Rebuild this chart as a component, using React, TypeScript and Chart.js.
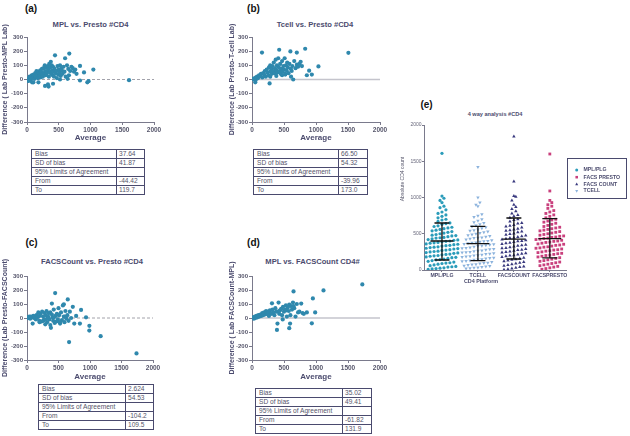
import React, { useEffect, useRef } from 'react';
import { Chart, registerables } from 'chart.js';

Chart.register(...registerables);

const FONT = "'Liberation Sans', Arial, Helvetica, sans-serif";
const SLATE = '#4b4b6e';
const AXIS = '#7a7a8c';
const TICK = '#55556a';
const BA_POINT = '#2f88ad';

// ---------- Bland-Altman data ----------
const aAvg = [15, 25, 40, 55, 60, 75, 80, 95, 100, 110, 120, 130, 140, 150, 160, 170, 180, 190, 200, 210, 215, 225, 235, 245, 250, 260, 270, 280, 285, 295, 300, 310, 320, 330, 335, 345, 350, 360, 365, 375, 380, 390, 395, 405, 410, 420, 425, 435, 441, 450, 460, 470, 480, 490, 500, 510, 520, 530, 540, 550, 560, 575, 590, 600, 610, 630, 640, 650, 660, 666, 680, 700, 720, 740, 760, 780, 835, 835, 898, 950, 970, 1045, 1607, 284, 330, 340, 180, 100, 410, 520];
const aDiff = [5, -10, 20, -5, 15, 30, -20, 10, 35, 25, 5, 45, 20, 60, 30, 10, 55, 40, 25, 65, 15, 50, 75, 35, 20, 80, 45, 100, 60, 30, 85, 40, 55, 95, 70, 20, 110, 50, 85, 125, 40, 100, 65, 30, 90, 55, 20, 75, 171, 45, 60, 10, 95, 35, 70, 50, 100, 25, 80, 65, 40, 90, 55, 150, 20, 100, 5, 75, 30, 183, 60, 90, 80, 55, 70, 40, 96, -7, 50, -20, -12, 70, -5, -45, -35, -50, -20, -20, -30, 0];

const bAvg = [20, 30, 45, 55, 65, 80, 95, 110, 125, 140, 156, 160, 175, 190, 200, 215, 230, 245, 255, 265, 275, 285, 290, 300, 310, 320, 330, 340, 350, 360, 370, 380, 390, 400, 410, 420, 425, 430, 440, 450, 460, 470, 480, 490, 500, 510, 520, 530, 540, 550, 560, 570, 585, 600, 608, 620, 630, 644, 660, 680, 700, 701, 720, 740, 760, 780, 831, 857, 893, 935, 1038, 1506, 51, 285, 380, 470, 520, 610];
const bDiff = [5, 0, 10, -5, 15, 20, 10, 30, 25, 40, 190, 15, 45, 35, 60, 20, 70, 50, 30, 85, -28, 100, 55, 75, 40, 95, 60, 120, 45, 80, 140, 65, 100, 50, 150, 85, 210, 60, 110, 40, 75, 130, 55, 95, 70, 150, 40, 100, 65, 120, 85, 45, 110, 198, 75, 60, 95, 0, 130, 80, 190, 105, 90, 110, 125, 95, 217, 30, 62, 35, 92, 188, -20, 20, 25, 30, 35, 20];

const cAvg = [10, 20, 35, 50, 60, 75, 90, 100, 110, 125, 140, 150, 165, 180, 195, 200, 215, 230, 240, 255, 265, 280, 290, 300, 310, 320, 335, 345, 355, 370, 380, 395, 405, 415, 425, 440, 447, 455, 465, 475, 490, 500, 510, 525, 540, 555, 570, 585, 595, 610, 625, 640, 647, 660, 668, 680, 700, 727, 750, 780, 840, 858, 937, 990, 989, 1169, 1738, 395, 585, 200, 370, 260, 430, 520, 600, 330, 290, 470];
const cDiff = [5, 0, 10, -5, 10, 5, -40, 15, 0, 10, -10, 20, 5, 40, -20, 15, 30, -25, 45, 10, -15, 35, -45, 20, 50, -30, 10, 35, -10, 40, -70, 25, 5, -20, 60, -35, 178, 15, -25, 30, -10, 70, 20, -40, 40, -15, 90, 10, -30, 50, -5, 20, 133, -20, -172, 45, 0, 80, -40, 15, -40, 58, 5, -56, -90, -130, -253, 103, 98, -30, -50, -20, 5, -30, 10, 0, -10, 25];

const dAvg = [10, 20, 30, 45, 55, 70, 85, 100, 115, 130, 145, 160, 175, 190, 205, 220, 235, 250, 265, 280, 295, 312, 320, 335, 350, 365, 380, 390, 398, 415, 425, 440, 455, 470, 485, 500, 515, 530, 545, 560, 575, 582, 582, 595, 610, 625, 640, 649, 660, 680, 700, 720, 740, 769, 790, 810, 857, 935, 951, 987, 1117, 1724, 300, 420, 480, 540, 600, 650];
const dDiff = [0, 5, -5, 10, 0, 15, 5, 20, 10, 25, 15, 35, 20, 40, 25, 50, 30, 45, 15, 55, 35, 105, 60, 40, 20, 70, 45, -85, -40, 110, 30, 55, 65, 20, 80, 45, 60, 90, 10, 75, 50, 95, -73, -40, 85, 60, 110, 190, 70, 10, 100, 40, 45, 103, 35, 30, 40, -38, 140, 40, 197, 240, 30, 50, -10, 55, 20, 85];

// ---------- Stats tables ----------
const tableLabels = ['Bias', 'SD of bias', '95% Limits of Agreement', 'From', 'To'];
const aStats = ['37.64', '41.87', '', '-44.42', '119.7'];
const bStats = ['66.50', '54.32', '', '-39.96', '173.0'];
const cStats = ['2.624', '54.53', '', '-104.2', '109.5'];
const dStats = ['35.02', '49.41', '', '-61.82', '131.9'];

// ---------- 4-way analysis ----------
const eCategories = ['MPL/PLG', 'TCELL', 'FACSCOUNT', 'FACSPRESTO'];
const eLegendNames = ['MPL/PLG', 'TCELL', 'FACS COUNT', 'FACS PRESTO'];
const eLegendOrder = [0, 3, 2, 1];
const eColors = ['#2a9cba', '#8cb3dd', '#38387e', '#c9407d'];
const eYTicks = [0, 500, 1000, 1500, 2000];

const mplVals = [1610, 1020, 990, 960, 930, 880, 860, 830, 800, 780, 760, 740, 720, 700, 690, 670, 650, 640, 630, 610, 600, 590, 580, 570, 560, 550, 540, 530, 520, 510, 500, 490, 480, 475, 470, 460, 450, 445, 440, 430, 420, 415, 410, 400, 395, 390, 380, 375, 370, 360, 355, 350, 340, 335, 330, 320, 315, 310, 300, 295, 290, 280, 275, 270, 260, 255, 250, 240, 235, 230, 220, 215, 210, 200, 195, 190, 180, 175, 170, 160, 150, 145, 140, 130, 120, 110, 100, 95, 90, 80, 70, 60, 50, 45, 40, 30, 25, 20, 15, 10];
const tcellVals = [1420, 1000, 930, 900, 880, 770, 750, 730, 700, 680, 660, 650, 630, 615, 600, 590, 575, 560, 550, 540, 530, 520, 510, 500, 490, 480, 470, 460, 450, 445, 440, 430, 420, 410, 400, 395, 390, 380, 375, 370, 360, 355, 350, 340, 335, 330, 320, 310, 305, 300, 290, 285, 280, 270, 265, 260, 250, 245, 240, 230, 225, 220, 210, 205, 200, 190, 185, 180, 170, 165, 160, 150, 145, 140, 130, 125, 120, 110, 100, 95, 90, 80, 75, 70, 60, 55, 50, 40, 35, 30, 25, 20];
const facsCountVals = [1840, 1220, 1020, 1010, 960, 900, 870, 840, 810, 780, 760, 740, 720, 700, 690, 670, 650, 640, 620, 610, 600, 585, 570, 560, 550, 540, 530, 520, 505, 495, 485, 475, 465, 455, 445, 440, 430, 420, 410, 400, 395, 385, 375, 370, 360, 350, 340, 335, 325, 315, 305, 300, 290, 280, 275, 265, 255, 250, 240, 230, 225, 215, 205, 200, 190, 180, 170, 160, 150, 140, 130, 120, 110, 100, 90, 80, 70, 60, 50, 40, 30, 20, 10, 5];
const facsPrestoVals = [1600, 1090, 960, 930, 900, 880, 850, 820, 800, 780, 760, 740, 720, 700, 690, 675, 660, 645, 630, 615, 600, 590, 580, 570, 560, 550, 540, 530, 520, 510, 500, 490, 480, 470, 465, 455, 450, 440, 435, 425, 420, 410, 400, 395, 385, 380, 370, 360, 355, 345, 340, 330, 320, 315, 305, 300, 290, 280, 275, 265, 260, 250, 240, 230, 225, 215, 205, 200, 190, 180, 170, 160, 150, 140, 130, 120, 110, 100, 90, 80, 70, 60, 50, 40, 30, 20, 10];
const eMeans = [400, 363, 427, 432];
const eLower = [138, 128, 152, 166];
const eUpper = [648, 602, 717, 708];

const eSeries = [mplVals, tcellVals, facsCountVals, facsPrestoVals];
const eShapes = ['circle', 'triangleDown', 'triangle', 'rect'];

function swarm(values: number[], center: number, bin = 60, step = 0.11) {
  const groups = new Map<number, number[]>();
  values.forEach((v) => {
    const k = Math.floor(v / bin);
    if (!groups.has(k)) groups.set(k, []);
    groups.get(k)!.push(v);
  });
  const out: { x: number; y: number }[] = [];
  groups.forEach((list) => {
    list.sort((p, q) => p - q);
    const n = list.length;
    list.forEach((v, j) => {
      out.push({ x: center + (j - (n - 1) / 2) * step, y: v });
    });
  });
  return out;
}

type BAProps = {
  avg: number[];
  diff: number[];
  yTitle: string;
  canvasLeft: number;
  canvasTop: number;
  plotLeft: number;
  plotRight: number;
  plotTop: number;
  plotBottom: number;
  xAxisH: number;
  titleX: number;
  dashed: boolean;
};

function BlandAltman(p: BAProps) {
  const ref = useRef<HTMLCanvasElement>(null);
  const W = p.plotRight - p.canvasLeft + 16;
  const H = p.plotBottom - p.canvasTop + p.xAxisH;
  useEffect(() => {
    const yTitlePlugin = {
      id: 'yTitle',
      afterDraw(chart: any) {
        const ctx = chart.ctx as CanvasRenderingContext2D;
        const area = chart.chartArea;
        ctx.save();
        ctx.fillStyle = SLATE;
        ctx.font = `bold 7px ${FONT}`;
        ctx.textAlign = 'center';
        ctx.textBaseline = 'middle';
        ctx.translate(p.titleX - p.canvasLeft, (area.top + area.bottom) / 2);
        ctx.rotate(-Math.PI / 2);
        ctx.fillText(p.yTitle, 0, 0);
        ctx.restore();
      },
    };
    const chart = new Chart(ref.current!, {
      type: 'scatter',
      data: {
        datasets: [
          {
            data: p.avg.map((a, i) => ({ x: a, y: p.diff[i] })),
            backgroundColor: BA_POINT,
            borderColor: BA_POINT,
            borderWidth: 0,
            pointRadius: 2.1,
          },
          {
            data: [{ x: 0, y: 0 }, { x: 2000, y: 0 }],
            showLine: true,
            pointRadius: 0,
            borderColor: p.dashed ? '#8a8a96' : '#c4c4cc',
            borderWidth: p.dashed ? 0.8 : 1.6,
            borderDash: p.dashed ? [3, 2] : [],
          },
        ],
      } as any,
      options: {
        animation: false,
        responsive: false,
        events: [],
        plugins: { legend: { display: false }, tooltip: { enabled: false } },
        layout: { padding: { left: 0, right: 16, top: p.plotTop - p.canvasTop, bottom: 0 } },
        scales: {
          x: {
            type: 'linear',
            min: 0,
            max: 2000,
            ticks: { stepSize: 500, autoSkip: false, maxRotation: 0, padding: 1.5, color: TICK, font: { family: FONT, size: 6.5, weight: 'bold' }, callback: (v: any) => String(v) },
            grid: { drawOnChartArea: false, tickLength: 3, color: AXIS },
            border: { color: AXIS, width: 1 },
            title: { display: true, text: 'Average', color: SLATE, padding: 0, font: { family: FONT, size: 8, weight: 'bold' } },
            afterFit: (s: any) => { s.height = p.xAxisH; },
          },
          y: {
            type: 'linear',
            min: -300,
            max: 300,
            ticks: { stepSize: 100, padding: 1, color: TICK, font: { family: FONT, size: 6, weight: 'bold' }, callback: (v: any) => String(v) },
            grid: { drawOnChartArea: false, tickLength: 3, color: AXIS },
            border: { color: AXIS, width: 1 },
            title: { display: false },
            afterFit: (s: any) => { s.width = p.plotLeft - p.canvasLeft; },
          },
        },
      } as any,
      plugins: [yTitlePlugin],
    });
    return () => chart.destroy();
  }, []);
  return (
    <canvas
      ref={ref}
      width={W}
      height={H}
      style={{ position: 'absolute', left: p.canvasLeft, top: p.canvasTop, width: W, height: H }}
    />
  );
}

function drawShape(ctx: CanvasRenderingContext2D, shape: string, x: number, y: number, r: number) {
  ctx.beginPath();
  if (shape === 'circle') {
    ctx.arc(x, y, r, 0, Math.PI * 2);
  } else if (shape === 'rect') {
    ctx.rect(x - r * 0.85, y - r * 0.85, r * 1.7, r * 1.7);
  } else if (shape === 'triangle') {
    ctx.moveTo(x, y - r * 1.1);
    ctx.lineTo(x + r, y + r * 0.7);
    ctx.lineTo(x - r, y + r * 0.7);
    ctx.closePath();
  } else {
    ctx.moveTo(x, y + r * 1.1);
    ctx.lineTo(x + r, y - r * 0.7);
    ctx.lineTo(x - r, y - r * 0.7);
    ctx.closePath();
  }
  ctx.fill();
}

function ColumnScatter() {
  const ref = useRef<HTMLCanvasElement>(null);
  const canvasLeft = 395, canvasTop = 118, W = 235, H = 172;
  const plotLeft = 424, plotRight = 566, plotTop = 125, plotBottom = 270;
  useEffect(() => {
    const errorBars = {
      id: 'errorBars',
      afterDatasetsDraw(chart: any) {
        const { ctx, scales } = chart;
        const x = scales.x, y = scales.y;
        ctx.save();
        ctx.strokeStyle = '#111';
        ctx.lineWidth = 1.3;
        eMeans.forEach((m, i) => {
          const cx = x.getPixelForValue(i + 1);
          const ym = y.getPixelForValue(m);
          const yl = y.getPixelForValue(eLower[i]);
          const yu = y.getPixelForValue(eUpper[i]);
          ctx.beginPath();
          ctx.moveTo(cx - 11.5, ym); ctx.lineTo(cx + 11.5, ym);
          ctx.moveTo(cx, yu); ctx.lineTo(cx, yl);
          ctx.moveTo(cx - 7.5, yu); ctx.lineTo(cx + 7.5, yu);
          ctx.moveTo(cx - 7.5, yl); ctx.lineTo(cx + 7.5, yl);
          ctx.stroke();
        });
        ctx.restore();
      },
    };
    const decor = {
      id: 'decor',
      afterDraw(chart: any) {
        const ctx = chart.ctx as CanvasRenderingContext2D;
        ctx.save();
        ctx.strokeStyle = '#4a4a6e';
        ctx.lineWidth = 1;
        ctx.strokeRect(172.5, 40.5, 59, 40);
        const rows = [52, 59.2, 66.2, 73];
        eLegendOrder.forEach((idx, k) => {
          ctx.fillStyle = eColors[idx];
          drawShape(ctx, eShapes[idx], 181.7, rows[k], 1.5);
          ctx.fillStyle = SLATE;
          ctx.font = `bold 5.2px ${FONT}`;
          ctx.textAlign = 'left';
          ctx.textBaseline = 'middle';
          ctx.fillText(eLegendNames[idx], 188.5, rows[k]);
        });
        ctx.fillStyle = '#55556a';
        ctx.font = `5px ${FONT}`;
        ctx.textAlign = 'center';
        ctx.textBaseline = 'middle';
        ctx.save();
        ctx.translate(7.5, 61);
        ctx.rotate(-Math.PI / 2);
        ctx.fillText('Absolute CD4 count', 0, 0);
        ctx.restore();
        ctx.fillStyle = SLATE;
        ctx.font = `bold 5.4px ${FONT}`;
        ctx.fillText('CD4 Platform', 86, 163.5);
        ctx.restore();
      },
    };
    const chart = new Chart(ref.current!, {
      type: 'scatter',
      data: {
        datasets: eSeries.map((vals, i) => ({
          label: eLegendNames[i],
          data: swarm(vals, i + 1),
          pointStyle: eShapes[i] === 'triangleDown' ? 'triangle' : eShapes[i],
          pointRotation: eShapes[i] === 'triangleDown' ? 180 : 0,
          pointRadius: eShapes[i] === 'circle' ? 1.6 : 2.0,
          backgroundColor: eColors[i],
          borderColor: eColors[i],
          borderWidth: 0,
        })),
      } as any,
      options: {
        animation: false,
        responsive: false,
        events: [],
        plugins: { legend: { display: false }, tooltip: { enabled: false } },
        layout: { padding: { left: 0, right: W - (plotRight - canvasLeft), top: plotTop - canvasTop, bottom: 0 } },
        scales: {
          x: {
            type: 'linear',
            min: 0.5,
            max: 4.45,
            afterBuildTicks: (s: any) => { s.ticks = eCategories.map((_, i) => ({ value: i + 1 })); },
            ticks: {
              autoSkip: false,
              maxRotation: 0,
              padding: 0.5,
              color: SLATE,
              font: { family: FONT, size: 5.2, weight: 'bold' },
              callback: (v: any) => eCategories[Math.round(Number(v)) - 1] ?? '',
            },
            grid: { drawOnChartArea: false, tickLength: 2, color: AXIS },
            border: { color: AXIS, width: 1 },
            afterFit: (s: any) => { s.height = H - (plotBottom - canvasTop); },
          },
          y: {
            type: 'linear',
            min: 0,
            max: 2000,
            afterBuildTicks: (s: any) => { s.ticks = eYTicks.map((v) => ({ value: v })); },
            ticks: { padding: 0.5, color: '#66667a', font: { family: FONT, size: 5 }, callback: (v: any) => String(v) },
            grid: { drawOnChartArea: false, tickLength: 2, color: AXIS },
            border: { color: AXIS, width: 1 },
            afterFit: (s: any) => { s.width = plotLeft - canvasLeft; },
          },
        },
      } as any,
      plugins: [errorBars, decor],
    });
    return () => chart.destroy();
  }, []);
  return (
    <canvas
      ref={ref}
      width={W}
      height={H}
      style={{ position: 'absolute', left: canvasLeft, top: canvasTop, width: W, height: H }}
    />
  );
}

function Label({ x, y, text, size, color, bold = true }: { x: number; y: number; text: string; size: number; color: string; bold?: boolean }) {
  return (
    <div
      style={{
        position: 'absolute',
        left: x,
        top: y,
        transform: 'translate(-50%, -50%)',
        whiteSpace: 'nowrap',
        fontSize: size,
        lineHeight: 1,
        fontWeight: bold ? 'bold' : 'normal',
        color,
        fontFamily: FONT,
      }}
    >
      {text}
    </div>
  );
}

function StatTable({ left, top, width, divider, values }: { left: number; top: number; width: number; divider: number; values: string[] }) {
  const rowH = 9;
  return (
    <div
      style={{
        position: 'absolute',
        left,
        top,
        width,
        height: rowH * tableLabels.length + 1,
        boxSizing: 'border-box',
        border: '1px solid #4a4a6e',
        fontFamily: FONT,
        fontSize: 6.6,
        color: '#55556a',
        background: '#fff',
      }}
    >
      {tableLabels.map((lab, i) => (
        <div
          key={i}
          style={{
            display: 'flex',
            height: i < tableLabels.length - 1 ? rowH : rowH - 1,
            boxSizing: 'border-box',
            borderBottom: i < tableLabels.length - 1 ? '1px solid #4a4a6e' : 'none',
            lineHeight: `${rowH - 1}px`,
          }}
        >
          <div style={{ width: divider - left - 1, boxSizing: 'border-box', borderRight: '1px solid #4a4a6e', paddingLeft: 3, whiteSpace: 'nowrap', overflow: 'hidden' }}>{lab}</div>
          <div style={{ flex: 1, paddingLeft: 2, whiteSpace: 'nowrap' }}>{values[i]}</div>
        </div>
      ))}
    </div>
  );
}

export default function App() {
  return (
    <div style={{ position: 'absolute', left: 0, top: 0, width: 630, height: 436, background: '#fff', overflow: 'hidden' }}>
      <Label x={31} y={8.5} text="(a)" size={10} color="#111" />
      <Label x={253.5} y={8.5} text="(b)" size={10} color="#111" />
      <Label x={31.5} y={243} text="(c)" size={10} color="#111" />
      <Label x={253.5} y={243} text="(d)" size={10} color="#111" />
      <Label x={426.5} y={105} text="(e)" size={10} color="#111" />

      <Label x={90.5} y={24.5} text="MPL vs. Presto #CD4" size={7.6} color={SLATE} />
      <Label x={315} y={24.5} text="Tcell vs. Presto #CD4" size={7.6} color={SLATE} />
      <Label x={92} y={262.3} text="FACSCount vs. Presto #CD4" size={7.6} color={SLATE} />
      <Label x={312.5} y={262} text="MPL vs. FACSCount CD4#" size={7.6} color={SLATE} />
      <Label x={495} y={115} text="4 way analysis #CD4" size={5.6} color={SLATE} />

      <BlandAltman avg={aAvg} diff={aDiff} yTitle="Difference ( Lab Presto-MPL Lab)" canvasLeft={0} canvasTop={12} plotLeft={27} plotRight={154} plotTop={37} plotBottom={122} xAxisH={21} titleX={5.5} dashed={true} />
      <BlandAltman avg={bAvg} diff={bDiff} yTitle="Difference (Lab Presto-T-cell Lab)" canvasLeft={228} canvasTop={12} plotLeft={252} plotRight={380} plotTop={37} plotBottom={122} xAxisH={21} titleX={232} dashed={false} />
      <BlandAltman avg={cAvg} diff={cDiff} yTitle="Difference (Lab Presto-FACSCount)" canvasLeft={0} canvasTop={250} plotLeft={27} plotRight={153} plotTop={276} plotBottom={360} xAxisH={22} titleX={5} dashed={true} />
      <BlandAltman avg={dAvg} diff={dDiff} yTitle="Difference ( Lab FACSCount-MPL)" canvasLeft={228} canvasTop={250} plotLeft={252} plotRight={380} plotTop={276} plotBottom={360} xAxisH={22} titleX={232.5} dashed={false} />

      <StatTable left={31} top={149} width={114} divider={117} values={aStats} />
      <StatTable left={253} top={149} width={115} divider={339} values={bStats} />
      <StatTable left={38} top={384} width={116} divider={126} values={cStats} />
      <StatTable left={255} top={388} width={117} divider={343} values={dStats} />

      <ColumnScatter />
    </div>
  );
}
